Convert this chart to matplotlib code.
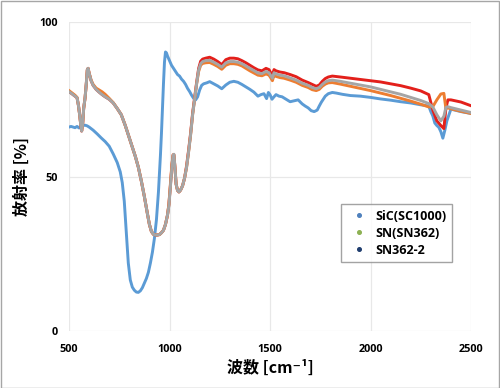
import matplotlib
matplotlib.use("Agg")
import matplotlib.pyplot as plt
from matplotlib.lines import Line2D
from matplotlib.patches import Rectangle

# ---- data ----
wn_sic = [500, 510, 520, 530, 540, 550, 560, 570, 580, 590, 600, 620, 640, 660, 680, 700, 720, 740, 755, 765,
          775, 785, 795, 805, 815, 825, 835, 845, 855, 865, 875, 885, 895, 905, 915, 925, 935, 945, 950, 955,
          960, 965, 970, 975, 980, 985, 990, 1000, 1010, 1020, 1030, 1040, 1050, 1060, 1070, 1080, 1090, 1100,
          1110, 1120, 1130, 1140, 1150, 1160, 1170, 1185, 1200, 1220, 1240, 1260, 1280, 1300, 1320, 1340, 1360,
          1380, 1400, 1420, 1440, 1455, 1470, 1483, 1492, 1500, 1510, 1520, 1530, 1545, 1560, 1580, 1600, 1620,
          1640, 1660, 1675, 1690, 1705, 1720, 1735, 1745, 1755, 1765, 1775, 1790, 1810, 1830, 1860, 1900, 1950,
          2000, 2050, 2100, 2150, 2200, 2250, 2290, 2300, 2310, 2320, 2330, 2340, 2350, 2360, 2370, 2380, 2400,
          2450, 2500]
sic = [66.0, 66.2, 66.0, 65.8, 66.2, 65.7, 66.3, 66.5, 66.6, 66.4, 66.0, 65.0, 63.8, 62.5, 61.3, 59.8, 57.3, 54.5,
       51.5, 48.0, 42.0, 32.0, 22.0, 16.5, 14.2, 13.2, 12.6, 12.5, 13.0, 14.0, 15.5, 17.0, 19.0, 22.0, 25.5, 30.0,
       36.0, 45.0, 51.0, 57.0, 64.0, 72.0, 80.0, 87.0, 90.3, 90.0, 89.0, 87.5, 86.0, 85.0, 84.0, 83.0, 82.5, 81.5,
       80.8, 79.8, 78.5, 77.5, 76.3, 75.3, 74.8, 75.8, 78.0, 79.5, 80.0, 80.3, 80.7, 80.0, 79.3, 78.4, 79.6, 80.5,
       80.8, 80.5, 79.8, 79.0, 78.2, 77.3, 76.0, 76.5, 76.8, 75.2, 77.2, 76.5, 75.0, 75.8, 76.5, 76.0, 75.8, 75.0,
       74.2, 74.5, 74.8, 73.5, 72.8, 72.2, 71.3, 71.0, 71.5, 72.8, 74.0, 75.0, 76.0, 76.8, 77.2, 77.0, 76.6, 76.2,
       76.0, 75.6, 75.1, 74.7, 74.2, 73.8, 73.2, 72.8, 71.0, 69.6, 67.3, 66.5, 65.9, 64.5, 62.4, 65.0, 68.0, 71.8,
       71.0, 70.4]

wn_sn = [500, 510, 520, 530, 540, 547, 553, 558, 563, 568, 573, 580, 586, 591, 595, 600, 610, 620, 635, 650, 665,
         680, 700, 720, 740, 760, 780, 800, 815, 830, 845, 860, 875, 890, 900, 910, 920, 935, 950, 960, 970, 980,
         990, 997, 1005, 1012, 1018, 1022, 1027, 1033, 1040, 1047, 1055, 1065, 1075, 1085, 1095, 1105, 1115, 1125,
         1135, 1145, 1155, 1165, 1180, 1200, 1220, 1240, 1260, 1280, 1300, 1320, 1340, 1360, 1380, 1400, 1420,
         1440, 1460, 1480, 1495, 1505, 1512, 1520, 1530, 1550, 1570, 1600, 1630, 1660, 1690, 1710, 1730, 1745,
         1760, 1775, 1790, 1810, 1850, 1900, 1950, 2000, 2050, 2100, 2150, 2200, 2250, 2290, 2310, 2330, 2350,
         2365, 2375, 2385, 2400, 2450, 2500]
sn362_2 = [77.4, 77.0, 76.5, 76.0, 75.5, 73.0, 70.0, 67.0, 64.7, 67.0, 72.0, 75.5, 80.0, 84.5, 85.0, 83.5, 81.0,
           79.5, 78.2, 77.3, 76.5, 75.8, 75.0, 73.8, 72.0, 70.0, 66.5, 62.5, 59.5, 56.5, 53.0, 48.5, 43.5, 38.0,
           34.5, 32.2, 31.3, 31.0, 31.2, 31.8, 32.6, 34.5, 37.5, 40.5, 47.0, 53.0, 56.8, 57.2, 53.0, 47.5, 45.5,
           45.0, 45.6, 47.0, 49.5, 53.0, 58.0, 63.5, 70.0, 75.0, 80.0, 84.5, 86.5, 87.2, 87.5, 87.6, 87.0, 86.3,
           85.4, 86.8, 87.2, 87.2, 87.0, 86.5, 85.8, 85.0, 84.3, 83.5, 83.3, 84.0, 83.6, 82.5, 81.8, 83.6, 83.2,
           82.8, 82.6, 81.9, 81.2, 80.2, 79.5, 78.8, 78.4, 78.8, 79.8, 80.6, 81.0, 81.2, 80.8, 80.2, 79.6, 79.0,
           78.2, 77.4, 76.6, 75.6, 74.6, 73.6, 72.5, 70.0, 68.0, 69.5, 72.3, 72.6, 72.3, 71.5, 70.7]
sn362 = [77.8, 77.3, 76.8, 76.3, 75.6, 73.0, 70.0, 67.0, 64.8, 67.0, 72.0, 75.5, 80.0, 84.5, 85.0, 83.5, 81.2,
         79.8, 78.6, 78.0, 77.4, 76.6, 75.3, 73.9, 72.0, 70.0, 66.5, 62.5, 59.5, 56.5, 53.0, 48.5, 43.5, 38.0,
         34.5, 32.2, 31.3, 31.0, 31.2, 31.8, 32.6, 34.5, 37.5, 41.0, 48.0, 54.0, 57.0, 57.0, 53.0, 47.5, 45.5,
         45.0, 45.6, 47.0, 49.5, 53.0, 58.0, 63.5, 70.0, 75.0, 80.0, 84.0, 86.0, 86.6, 86.8, 86.9, 86.3, 85.6,
         84.7, 86.0, 86.5, 86.5, 86.3, 85.8, 85.0, 84.2, 83.5, 82.8, 82.6, 83.2, 82.8, 81.8, 81.0, 82.8, 82.4,
         82.0, 81.8, 81.2, 80.5, 79.5, 78.8, 78.1, 77.8, 78.2, 79.2, 79.9, 80.3, 80.4, 79.9, 79.2, 78.5, 77.8,
         77.0, 76.2, 75.3, 74.4, 73.4, 72.5, 72.6, 74.8, 76.7, 76.9, 72.0, 72.2, 71.9, 71.1, 70.4]
sn_red = [77.4, 77.0, 76.5, 76.0, 75.5, 73.0, 70.0, 67.0, 64.7, 67.0, 72.0, 75.5, 80.0, 84.5, 85.0, 83.5, 81.0,
          79.5, 78.2, 77.3, 76.5, 75.8, 75.0, 73.8, 72.0, 70.0, 66.5, 62.5, 59.5, 56.5, 53.0, 48.5, 43.5, 38.0,
          34.5, 32.2, 31.3, 31.0, 31.2, 31.8, 32.6, 34.5, 37.5, 41.0, 47.5, 53.5, 57.0, 57.0, 53.0, 47.5, 45.5,
          45.0, 45.6, 47.0, 49.5, 53.5, 58.5, 64.0, 70.5, 75.5, 80.5, 85.0, 87.3, 88.0, 88.3, 88.6, 88.0, 87.2,
          86.2, 87.8, 88.3, 88.3, 88.1, 87.5, 86.8, 86.0, 85.2, 84.5, 84.2, 85.0, 84.6, 83.4, 82.8, 84.6, 84.2,
          83.8, 83.6, 83.0, 82.3, 81.2, 80.4, 79.8, 79.2, 79.6, 80.8, 81.7, 82.2, 82.5, 82.2, 81.8, 81.4, 81.0,
          80.6, 80.0, 79.4, 78.6, 77.7, 76.5, 71.5, 68.0, 66.5, 65.5, 72.0, 74.8, 74.8, 74.1, 72.9]

legend_labels = ["SiC(SC1000)", "SN(SN362)", "SN362-2"]
legend_colors = ["#4f81bd", "#8db153", "#1f3d6e"]
x_ticks = [500, 1000, 1500, 2000, 2500]
y_ticks = [0, 50, 100]
x_label = "波数 [cm⁻¹]"
y_label = "放射率 [%]"

# ---- figure ----
fig = plt.figure(figsize=(5.0, 3.88), dpi=100)
ax = fig.add_axes([0.138, 0.1469, 0.804, 0.7964])

lw = 2.1
ax.plot(wn_sic, sic, color="#5b9bd5", lw=lw, solid_joinstyle="round", zorder=3)
ax.plot(wn_sn, sn_red, color="#e3201b", lw=lw, solid_joinstyle="round", zorder=4)
ax.plot(wn_sn, sn362, color="#ed7d31", lw=lw, solid_joinstyle="round", zorder=5)
ax.plot(wn_sn, sn362_2, color="#a5a5a5", lw=lw, solid_joinstyle="round", zorder=6)

ax.set_xlim(500, 2500)
ax.set_ylim(0, 100)
ax.set_xticks(x_ticks)
ax.set_yticks(y_ticks)
ax.grid(True, color="#e8e8e8", lw=0.9)
ax.set_axisbelow(True)
for s in ax.spines.values():
    s.set_visible(False)
ax.tick_params(length=0, labelsize=7.8, pad=9)
for t in ax.get_xticklabels() + ax.get_yticklabels():
    t.set_fontweight("bold")
    t.set_family(["Open Sans", "DejaVu Sans"])
ax.tick_params(axis="y", pad=8)

fam = ["Noto Sans CJK JP", "DejaVu Sans"]
ax.set_xlabel(x_label, fontsize=11.5, fontweight="bold", family=fam, labelpad=4)
ax.set_ylabel(y_label, fontsize=11.5, fontweight="bold", family=fam, labelpad=7)

handles = [Line2D([], [], ls="none", marker="o", ms=2.6, color=c) for c in legend_colors]
leg = ax.legend(handles, legend_labels, loc="upper left", bbox_to_anchor=(0.677, 0.411),
                borderaxespad=0, frameon=True, fancybox=False, handlelength=2.0,
                handletextpad=0.25, labelspacing=0.32, borderpad=0.45,
                prop={"family": ["Open Sans", "DejaVu Sans"], "weight": "bold", "size": 9})
leg.get_frame().set_edgecolor("#8c8c8c")
leg.get_frame().set_linewidth(1.0)

fig.patches.append(Rectangle((0.001, 0.001), 0.997, 0.997, transform=fig.transFigure,
                             fill=False, edgecolor="#a6a6a6", lw=1.0))

fig.savefig("out.png", dpi=100)
